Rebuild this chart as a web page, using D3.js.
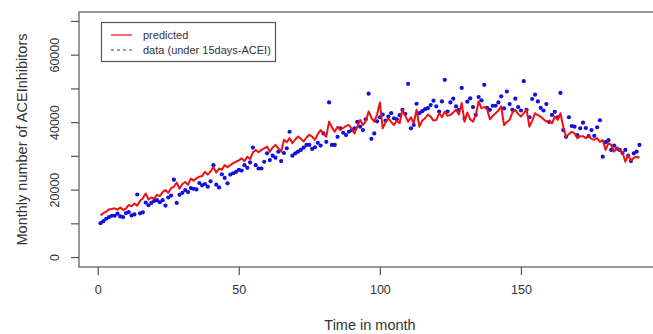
<!DOCTYPE html>
<html>
<head>
<meta charset="utf-8">
<script src="https://cdn.jsdelivr.net/npm/d3@7"></script>
<style>
  body { margin: 0; background: #fff; }
  svg { display: block; font-family: "Liberation Sans", Arial, sans-serif; }
</style>
</head>
<body>
<div class="my_plot"></div>
<script>
// monthly counts (thousands)
var predicted = [
  12.5, 13.2, 13.6, 14.3, 14.4, 14.6, 14.2, 14.8, 14.1, 14.5, 15.6, 15.2,
  16.0, 15.4, 16.8, 17.6, 19.0, 17.2, 17.8, 17.5, 18.6, 18.2, 19.4, 20.0,
  19.2, 20.6, 21.0, 22.2, 20.4, 21.8, 22.4, 21.6, 23.4, 22.8, 23.5, 24.0,
  24.2, 25.4, 24.6, 25.5, 26.8, 25.2, 26.4, 26.0, 27.4, 26.8, 27.4, 28.0,
  28.4, 28.8, 29.4, 28.6, 29.9, 29.2, 31.2, 31.9, 31.2, 31.9, 32.4, 32.9,
  31.4, 32.6, 33.4, 32.4, 31.4, 34.9, 34.2, 35.4, 33.9, 35.0, 35.9, 35.2,
  34.4, 35.6, 36.4, 35.8, 34.9, 36.6, 37.8, 36.8, 35.8, 40.3, 38.6, 37.3,
  38.8, 37.8, 38.4, 39.0, 39.3, 38.2, 36.8, 38.8, 40.8, 39.3, 40.4, 43.3,
  41.4, 40.3, 42.4, 46.0, 38.3, 40.0, 41.3, 40.2, 39.3, 40.6, 39.8, 43.8,
  42.0, 40.3, 41.6, 39.8, 43.8, 38.8, 40.6, 41.3, 42.4, 41.8, 40.6, 40.8,
  42.8, 41.6, 43.3, 42.0, 42.3, 43.0, 43.8, 42.4, 45.8, 40.3, 43.0, 41.0,
  40.3, 42.3, 46.3, 44.3, 44.6, 44.0, 41.0, 42.0, 42.8, 43.6, 44.8, 39.3,
  40.2, 40.8, 43.0, 43.8, 42.6, 41.8, 42.8, 43.8, 38.8, 40.6, 42.8, 42.2,
  41.8, 41.0, 40.3, 40.6, 39.8, 41.8, 40.8, 42.8, 38.8, 35.8, 36.6, 37.3,
  36.8, 35.4, 36.0, 36.0, 35.4, 36.0, 35.2, 34.9, 35.4, 34.3, 34.8, 31.9,
  33.9, 33.4, 31.4, 32.6, 31.9, 31.2, 28.4, 30.4, 28.8, 29.6, 29.9, 29.6
];

var observed = [
  10.2, 10.8, 11.5, 12.0, 12.4, 12.4, 13.0, 12.2, 12.0, 13.2, 13.5, 12.5,
  12.8, 18.7, 13.1, 13.4, 16.3, 15.5, 16.2, 16.8, 17.0, 16.4, 17.0, 15.4,
  17.8, 18.4, 23.1, 16.2, 18.6, 19.2, 20.0, 19.4, 20.6, 20.4, 20.2, 22.1,
  21.4, 21.8, 21.0, 22.6, 27.4, 21.6, 20.8, 24.7, 23.6, 22.0, 24.6, 25.0,
  25.4, 26.0, 25.8, 27.4, 26.6, 28.2, 32.6, 27.4, 26.4, 26.4, 28.4, 30.9,
  28.9, 30.2, 29.6, 31.4, 28.6, 31.0, 32.4, 37.3, 30.2, 30.9, 31.4, 31.9,
  32.6, 33.4, 33.4, 32.2, 32.7, 34.0, 33.2, 36.8, 34.3, 46.0, 33.4, 33.4,
  35.8, 38.3, 37.0, 36.3, 37.3, 37.8, 38.3, 40.2, 38.8, 37.8, 41.0, 48.6,
  35.2, 36.8, 40.4, 41.6, 42.4, 40.6, 41.8, 42.8, 41.3, 41.0, 42.2, 43.8,
  42.6, 51.5, 38.3, 39.3, 45.6, 42.8, 43.4, 44.0, 44.3, 45.2, 46.5, 44.8,
  43.3, 46.3, 52.7, 43.3, 46.0, 47.1, 44.8, 43.8, 50.3, 41.2, 46.2, 47.2,
  44.6, 42.3, 47.6, 46.6, 51.2, 44.4, 43.8, 45.0, 45.0, 46.0, 47.8, 44.2,
  49.2, 45.5, 43.8, 47.1, 44.6, 43.6, 52.3, 43.8, 41.6, 47.0, 48.3, 46.3,
  44.4, 43.6, 45.5, 40.2, 42.3, 43.2, 41.6, 48.8, 37.8, 35.8, 41.6, 39.0,
  38.8, 36.3, 38.3, 40.0, 38.4, 36.0, 37.8, 36.1, 38.6, 40.7, 29.9, 34.2,
  34.8, 31.9, 33.2, 32.3, 31.9, 31.0, 31.9, 30.2, 28.6, 30.9, 31.4, 33.4
];

var xTicks = [0, 50, 100, 150];
var yTicks = [0, 10000, 20000, 30000, 40000, 50000, 60000, 70000];
var yTickLabels = ["0", "", "20000", "", "40000", "", "60000", ""];
var legendLabels = ["predicted", "data (under 15days-ACEI)"];

var months = predicted.map(function (d, i) { return i + 1; });
var predData = predicted.map(function (d, i) { return { x: months[i], y: d * 1000 }; });
var obsData = observed.map(function (d, i) { return { x: months[i], y: d * 1000 }; });

var width = 653, height = 334;
// plot box like R's default 4% axis padding
var box = { left: 79, top: 12, right: 661, bottom: 267 };

var svg = d3.select(".my_plot")
  .append("svg")
  .attr("width", width)
  .attr("height", height);

var n = months.length;
var pad = 0.04 * (n - 1);
var x = d3.scaleLinear()
  .domain([1 - pad, n + pad])
  .range([box.left, box.right]);

var y = d3.scaleLinear()
  .domain([-2800, 72800])
  .range([box.bottom, box.top]);

var textColor = "#333";
var axisColor = "#555";

// frame
svg.append("rect")
  .attr("x", box.left)
  .attr("y", box.top)
  .attr("width", box.right - box.left)
  .attr("height", box.bottom - box.top)
  .attr("fill", "none")
  .attr("stroke", axisColor)
  .attr("stroke-width", 1.2);

// x axis
var xAxis = svg.append("g")
  .attr("transform", "translate(0," + box.bottom + ")")
  .call(d3.axisBottom(x).tickValues(xTicks).tickSize(8).tickPadding(10).tickFormat(d3.format("d")));
xAxis.select(".domain").remove();
xAxis.selectAll("line").attr("stroke", axisColor).attr("stroke-width", 1.2);
xAxis.selectAll("text")
  .attr("fill", textColor)
  .style("font-size", "12.5px");

// y axis, labels vertical as in R
var yAxis = svg.append("g")
  .attr("transform", "translate(" + box.left + ",0)")
  .call(d3.axisLeft(y).tickValues(yTicks).tickSize(8).tickFormat(function (d, i) { return yTickLabels[i]; }));
yAxis.select(".domain").remove();
yAxis.selectAll("line").attr("stroke", axisColor).attr("stroke-width", 1.2);
yAxis.selectAll(".tick").attr("transform", "translate(0,0)");
yAxis.selectAll(".tick line")
  .attr("y1", function (d) { return y(d); })
  .attr("y2", function (d) { return y(d); });
yAxis.selectAll("text")
  .attr("fill", textColor)
  .style("font-size", "12.5px")
  .attr("x", 0)
  .attr("y", 0)
  .attr("dy", null)
  .style("text-anchor", "middle")
  .attr("dominant-baseline", "central")
  .attr("transform", function (d) { return "translate(-24," + y(d) + ") rotate(-90)"; });

// axis titles
svg.append("text")
  .attr("x", (box.left + box.right) / 2)
  .attr("y", 330)
  .attr("fill", textColor)
  .style("font-size", "14.5px")
  .style("text-anchor", "middle")
  .text("Time in month");

svg.append("text")
  .attr("transform", "translate(22," + (box.top + box.bottom) / 2 + ") rotate(-90)")
  .attr("fill", textColor)
  .attr("dominant-baseline", "central")
  .style("font-size", "14.5px")
  .style("text-anchor", "middle")
  .text("Monthly number of ACEInhibitors");

// observed points
svg.append("g")
  .selectAll("circle")
  .data(obsData)
  .enter()
  .append("circle")
  .attr("cx", function (d) { return x(d.x); })
  .attr("cy", function (d) { return y(d.y); })
  .attr("r", 2.1)
  .attr("fill", "#1010e0");

// predicted line
var line = d3.line()
  .x(function (d) { return x(d.x); })
  .y(function (d) { return y(d.y); });

svg.append("path")
  .datum(predData)
  .attr("d", line)
  .attr("fill", "none")
  .attr("stroke", "#ee1111")
  .attr("stroke-width", 2)
  .attr("stroke-linejoin", "round");

// legend
var legend = svg.append("g");
legend.append("rect")
  .attr("x", 101.5)
  .attr("y", 22.5)
  .attr("width", 174)
  .attr("height", 39)
  .attr("fill", "#fff")
  .attr("stroke", axisColor)
  .attr("stroke-width", 1.2);

var legendStyles = [
  { color: "#ee1111", dash: null },
  { color: "#3333cc", dash: "3,3" }
];

legendLabels.forEach(function (label, i) {
  var ly = 35 + i * 15;
  legend.append("line")
    .attr("x1", 111)
    .attr("x2", 132)
    .attr("y1", ly)
    .attr("y2", ly)
    .attr("stroke", legendStyles[i].color)
    .attr("stroke-width", 1.2)
    .attr("stroke-dasharray", legendStyles[i].dash);
  legend.append("text")
    .attr("x", 143)
    .attr("y", ly)
    .attr("dominant-baseline", "central")
    .attr("fill", textColor)
    .style("font-size", "11px")
    .text(label);
});
</script>
</body>
</html>
